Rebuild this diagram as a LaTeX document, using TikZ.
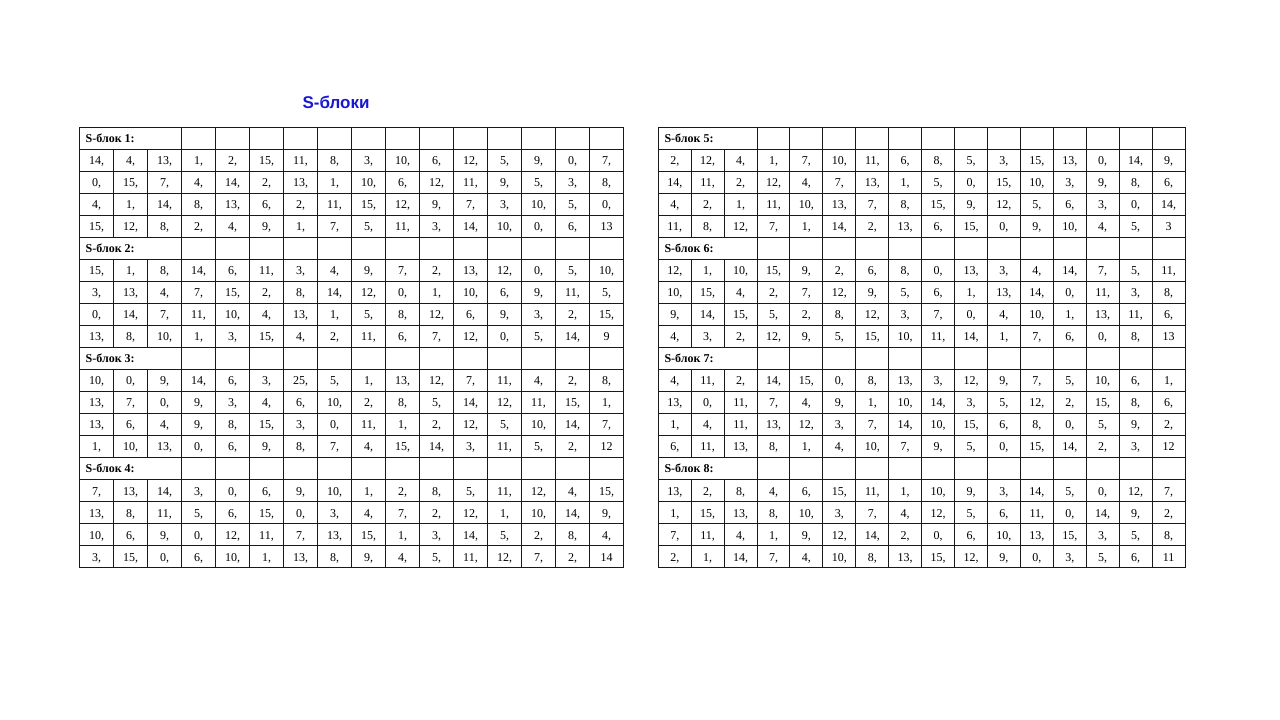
\documentclass[tikz,border=0pt]{standalone}
\usepackage{fontspec}
\setmainfont{Liberation Serif}
\newfontfamily\headingfont{Liberation Sans}

\definecolor{titleblue}{RGB}{24,24,210}
\newcommand{\toprow}{127}
\newcommand{\rowh}{22.03}

\tikzset{
	sheading/.style={font=\headingfont\bfseries\fontsize{17}{19}\selectfont, text=titleblue, inner sep=0pt},
	shead/.style={font=\bfseries\fontsize{12}{14}\selectfont, inner sep=0pt, anchor=base west},
	scell/.style={font=\fontsize{12}{14}\selectfont, inner sep=0pt, anchor=base},
	gridline/.style={line width=1pt, black!90},
}

% grid of one table: x of left edge, column width
\newcommand{\sgrid}[2]{%
	\draw[gridline] (#1,\toprow) rectangle ({#1+16*#2},{\toprow+20*\rowh});
	\foreach \i in {1,...,19}
		\draw[gridline] (#1,{\toprow+\i*\rowh}) -- ({#1+16*#2},{\toprow+\i*\rowh});
	\foreach \j in {3,...,15}
		\draw[gridline] ({#1+\j*#2},\toprow) -- ({#1+\j*#2},{\toprow+20*\rowh});
	\foreach \j in {1,2}
		\foreach \k in {0,...,3}
			\draw[gridline] ({#1+\j*#2},{\toprow+(5*\k+1)*\rowh}) -- ({#1+\j*#2},{\toprow+(5*\k+5)*\rowh});
}

% one row of values: x, column width, row index, name, last comma, values
\newcommand{\sblockrow}[6]{%
	\foreach \val [count=\col] in {#6}
		\node[scell] (#4-\col) at ({#1+(\col-0.5)*#2},{\toprow+(#3+0.5)*\rowh+4.5}) {\val\ifnum\col=16 #5\else,\fi};
}

% one S-block: x, column width, place in table, number, four rows
\newcommand{\sblock}[8]{%
	\node[shead] (s#4-head) at ({#1+6},{\toprow+(5*#3+0.5)*\rowh+4.5}) {S-блок #4:};
	\sblockrow{#1}{#2}{5*#3+1}{s#4-1}{,}{#5}
	\sblockrow{#1}{#2}{5*#3+2}{s#4-2}{,}{#6}
	\sblockrow{#1}{#2}{5*#3+3}{s#4-3}{,}{#7}
	\sblockrow{#1}{#2}{5*#3+4}{s#4-4}{}{#8}
}

\begin{document}
\begin{tikzpicture}[x=1pt,y=-1pt]
	\useasboundingbox (0,0) rectangle (1280,720);
	% title
	\node[sheading] (title) at (336,102) {S-блоки};
	% draw grids
	\sgrid{79.5}{34}
	\sgrid{658.3}{32.92}
	% left table
	\sblock{79.5}{34}{0}{1}
		{14,4,13,1,2,15,11,8,3,10,6,12,5,9,0,7}
		{0,15,7,4,14,2,13,1,10,6,12,11,9,5,3,8}
		{4,1,14,8,13,6,2,11,15,12,9,7,3,10,5,0}
		{15,12,8,2,4,9,1,7,5,11,3,14,10,0,6,13}
	\sblock{79.5}{34}{1}{2}
		{15,1,8,14,6,11,3,4,9,7,2,13,12,0,5,10}
		{3,13,4,7,15,2,8,14,12,0,1,10,6,9,11,5}
		{0,14,7,11,10,4,13,1,5,8,12,6,9,3,2,15}
		{13,8,10,1,3,15,4,2,11,6,7,12,0,5,14,9}
	\sblock{79.5}{34}{2}{3}
		{10,0,9,14,6,3,25,5,1,13,12,7,11,4,2,8}
		{13,7,0,9,3,4,6,10,2,8,5,14,12,11,15,1}
		{13,6,4,9,8,15,3,0,11,1,2,12,5,10,14,7}
		{1,10,13,0,6,9,8,7,4,15,14,3,11,5,2,12}
	\sblock{79.5}{34}{3}{4}
		{7,13,14,3,0,6,9,10,1,2,8,5,11,12,4,15}
		{13,8,11,5,6,15,0,3,4,7,2,12,1,10,14,9}
		{10,6,9,0,12,11,7,13,15,1,3,14,5,2,8,4}
		{3,15,0,6,10,1,13,8,9,4,5,11,12,7,2,14}
	% right table
	\sblock{658.3}{32.92}{0}{5}
		{2,12,4,1,7,10,11,6,8,5,3,15,13,0,14,9}
		{14,11,2,12,4,7,13,1,5,0,15,10,3,9,8,6}
		{4,2,1,11,10,13,7,8,15,9,12,5,6,3,0,14}
		{11,8,12,7,1,14,2,13,6,15,0,9,10,4,5,3}
	\sblock{658.3}{32.92}{1}{6}
		{12,1,10,15,9,2,6,8,0,13,3,4,14,7,5,11}
		{10,15,4,2,7,12,9,5,6,1,13,14,0,11,3,8}
		{9,14,15,5,2,8,12,3,7,0,4,10,1,13,11,6}
		{4,3,2,12,9,5,15,10,11,14,1,7,6,0,8,13}
	\sblock{658.3}{32.92}{2}{7}
		{4,11,2,14,15,0,8,13,3,12,9,7,5,10,6,1}
		{13,0,11,7,4,9,1,10,14,3,5,12,2,15,8,6}
		{1,4,11,13,12,3,7,14,10,15,6,8,0,5,9,2}
		{6,11,13,8,1,4,10,7,9,5,0,15,14,2,3,12}
	\sblock{658.3}{32.92}{3}{8}
		{13,2,8,4,6,15,11,1,10,9,3,14,5,0,12,7}
		{1,15,13,8,10,3,7,4,12,5,6,11,0,14,9,2}
		{7,11,4,1,9,12,14,2,0,6,10,13,15,3,5,8}
		{2,1,14,7,4,10,8,13,15,12,9,0,3,5,6,11}
\end{tikzpicture}
\end{document}
